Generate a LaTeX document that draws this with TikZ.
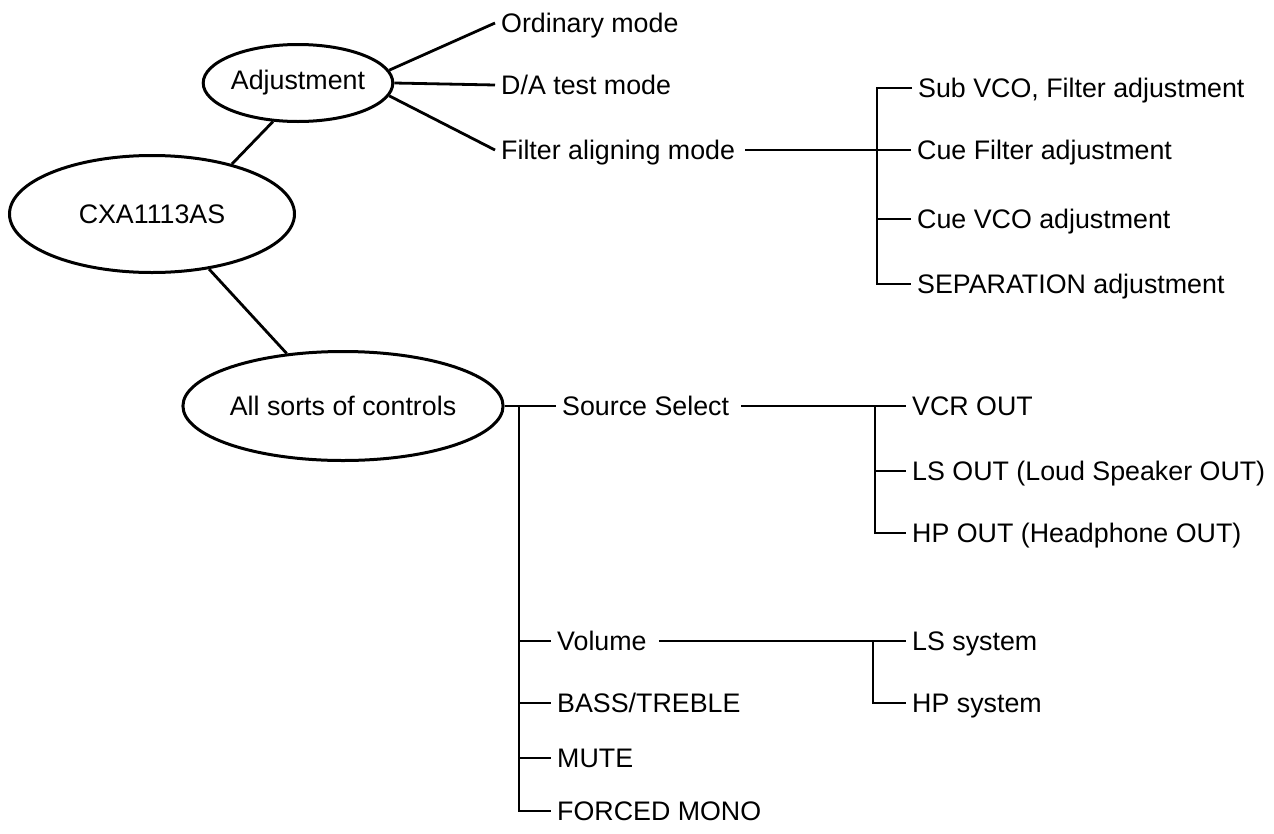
\documentclass[tikz,border=0pt]{standalone}
\usepackage{fontspec}
\setmainfont{Liberation Sans}
\usetikzlibrary{shapes.geometric}
\begin{document}
\begin{tikzpicture}[x=1pt,y=-1pt,
  lbl/.style={inner xsep=6pt, inner ysep=0pt, text height=19pt, text depth=0pt, anchor=west, font=\fontsize{26.8}{30}\selectfont},
  oval/.style={ellipse, draw, line width=3pt, inner sep=0pt, font=\fontsize{26.8}{30}\selectfont},
  ln/.style={line width=2.8pt}]
\fill[white] (0,0) rectangle (1274,833);
\useasboundingbox (0,0) rectangle (1274,833);
% ovals
\node[oval, minimum width=189pt, minimum height=77pt] (adj) at (298,83) {Adjustment};
\node[oval, minimum width=285pt, minimum height=117pt] (cxa) at (152,214) {CXA1113AS};
\node[oval, minimum width=287pt, minimum height=109pt] (all) at (343,406) {All sorts of controls};
% labels
\node[lbl] (ord) at (495,23) {Ordinary mode};
\node[lbl] (da) at (495,85) {D/A test mode};
\node[lbl] (fam) at (495,150) {Filter aligning mode};
\node[lbl] (sub) at (912,88) {Sub VCO, Filter adjustment};
\node[lbl] (cuef) at (911,150) {Cue Filter adjustment};
\node[lbl] (cuev) at (911,219) {Cue VCO adjustment};
\node[lbl] (sep) at (911,284) {SEPARATION adjustment};
\node[lbl] (ss) at (556,406) {Source Select};
\node[lbl] (vcr) at (906,406) {VCR OUT};
\node[lbl] (lso) at (906,471) {LS OUT (Loud Speaker OUT)};
\node[lbl] (hpo) at (906,533) {HP OUT (Headphone OUT)};
\node[lbl] (vol) at (551,641) {Volume};
\node[lbl] (bass) at (551,703) {BASS/TREBLE};
\node[lbl] (mute) at (551,758) {MUTE};
\node[lbl] (fm) at (551,811) {FORCED MONO};
\node[lbl] (lss) at (906,641) {LS system};
\node[lbl] (hps) at (906,703) {HP system};
% bar positions
\coordinate (bx1) at (877,0);
\coordinate (bx2) at (519,0);
\coordinate (bx3) at (875,0);
\coordinate (bx4) at (873,0);
% connectors
\draw[ln] (adj.237) -- (cxa.32);
\draw[ln] (cxa.-44) -- (all.137);
\draw[ln] (adj.8) -- (ord.west);
\draw[ln] (adj.east) -- (da.west);
\draw[ln] (adj.-8) -- (fam.west);
\draw[ln] ([xshift=4pt]fam.east) -- (cuef.west);
\draw[ln] (sub.west) -- (sub.west -| bx1) |- (sep.west);
\draw[ln] (cuev.west -| bx1) -- (cuev.west);
\draw[ln] (all.east) -- (ss.west);
\draw[ln] (ss.west -| bx2) |- (fm.west);
\draw[ln] (vol.west -| bx2) -- (vol.west);
\draw[ln] (bass.west -| bx2) -- (bass.west);
\draw[ln] (mute.west -| bx2) -- (mute.west);
\draw[ln] ([xshift=6pt]ss.east) -- (vcr.west);
\draw[ln] (vcr.west -| bx3) |- (hpo.west);
\draw[ln] (lso.west -| bx3) -- (lso.west);
\draw[ln] ([xshift=6pt]vol.east) -- (lss.west);
\draw[ln] (lss.west -| bx4) |- (hps.west);
\end{tikzpicture}
\end{document}
